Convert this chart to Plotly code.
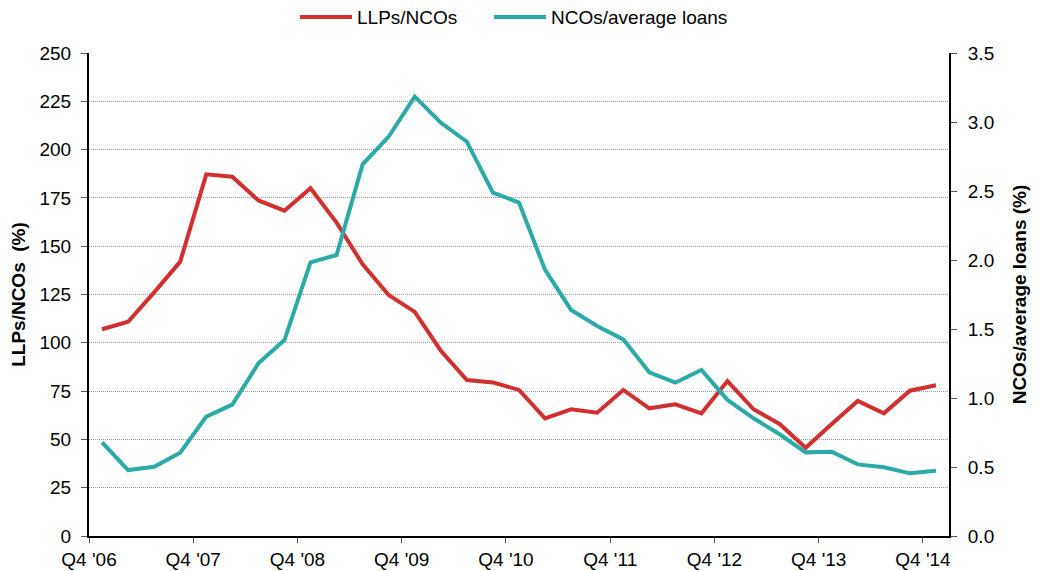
import plotly.graph_objects as go

# Quarters (one data point per quarter)
quarters = ["Q4 '06", "Q1 '07", "Q2 '07", "Q3 '07", "Q4 '07", "Q1 '08", "Q2 '08", "Q3 '08",
            "Q4 '08", "Q1 '09", "Q2 '09", "Q3 '09", "Q4 '09", "Q1 '10", "Q2 '10", "Q3 '10",
            "Q4 '10", "Q1 '11", "Q2 '11", "Q3 '11", "Q4 '11", "Q1 '12", "Q2 '12", "Q3 '12",
            "Q4 '12", "Q1 '13", "Q2 '13", "Q3 '13", "Q4 '13", "Q1 '14", "Q2 '14", "Q3 '14",
            "Q4 '14"]

llps_ncos = [107.0, 110.9, 126.1, 142.0, 187.2, 186.0, 173.7, 168.4, 180.0, 162.2, 140.6,
             124.7, 116.0, 95.9, 80.7, 79.5, 75.6, 60.9, 65.6, 63.8, 75.6, 66.1, 68.2, 63.5,
             80.2, 65.6, 58.0, 45.7, 58.0, 69.9, 63.5, 75.2, 78.0]

ncos_avg_loans = [0.679, 0.478, 0.502, 0.604, 0.865, 0.952, 1.251, 1.420, 1.983, 2.036,
                  2.693, 2.894, 3.184, 2.995, 2.857, 2.488, 2.416, 1.928, 1.638, 1.522,
                  1.425, 1.186, 1.111, 1.203, 0.986, 0.853, 0.737, 0.606, 0.611, 0.519,
                  0.498, 0.454, 0.473]

tick_labels = ["Q4 '06", "Q4 '07", "Q4 '08", "Q4 '09", "Q4 '10", "Q4 '11", "Q4 '12",
               "Q4 '13", "Q4 '14"]

series_names = ["LLPs/NCOs", "NCOs/average loans"]

RED = "#D1302F"
TEAL = "#2BAAA8"
FONT = "Liberation Sans, Arial, sans-serif"
FS = 19

# position each quarter in the centre of its category slot
xpos = [i + 0.5 for i in range(len(quarters))]
tickpos = [quarters.index(t) for t in tick_labels]

fig = go.Figure()
fig.add_trace(go.Scatter(x=xpos, y=llps_ncos, mode="lines", name=series_names[0],
                         line=dict(color=RED, width=4), text=quarters, showlegend=False,
                         hovertemplate="%{text}: %{y}<extra></extra>"))
fig.add_trace(go.Scatter(x=xpos, y=ncos_avg_loans, mode="lines", name=series_names[1],
                         line=dict(color=TEAL, width=4), yaxis="y2", text=quarters,
                         showlegend=False,
                         hovertemplate="%{text}: %{y}<extra></extra>"))

# custom legend (longer line keys, like the reference)
legend_items = [(series_names[0], RED, 0.2453, 0.3058), (series_names[1], TEAL, 0.4709, 0.5314)]
for name, col, x0, x1 in legend_items:
    fig.add_shape(type="line", xref="paper", yref="paper", x0=x0, x1=x1, y0=1.0745, y1=1.0745,
                  line=dict(color=col, width=4))
    fig.add_annotation(xref="paper", yref="paper", x=x1 + 0.004, y=1.0745, text=name,
                       showarrow=False, xanchor="left", yanchor="middle",
                       font=dict(size=FS, color="black"))

# page body adds an 8px offset, so the figure is 8px smaller than the window
fig.update_layout(
    width=1032, height=563,
    margin=dict(l=81, r=91, t=45, b=35, autoexpand=False),
    paper_bgcolor="white", plot_bgcolor="white",
    font=dict(family=FONT, size=FS, color="black"),
    showlegend=False,
    xaxis=dict(range=[0, len(quarters)], tickmode="array", tickvals=tickpos,
               ticktext=tick_labels, showgrid=False, zeroline=False,
               showline=True, linecolor="black", linewidth=2,
               ticks="outside", ticklen=5, tickcolor="#555", tickwidth=1),
    yaxis=dict(range=[0, 250], tick0=0, dtick=25, showgrid=True,
               gridcolor="#9A9A9A", griddash="1px,1px", gridwidth=1, zeroline=False,
               showline=True, linecolor="black", linewidth=2,
               ticks="outside", ticklen=6, tickcolor="#555", tickwidth=1,
               ticklabelstandoff=6,
               title=dict(text="<b>LLPs/NCOs  (%)</b>", standoff=12, font=dict(size=FS))),
    yaxis2=dict(range=[0, 3.5], tick0=0, dtick=0.5, tickformat=".1f", overlaying="y",
                side="right", showgrid=False, zeroline=False,
                showline=True, linecolor="black", linewidth=2,
                ticks="outside", ticklen=6, tickcolor="#555", tickwidth=1,
                ticklabelstandoff=7,
                title=dict(text="<b>NCOs/average loans (%)</b>", standoff=19,
                           font=dict(size=FS))),
)

fig.write_html("out.html")
